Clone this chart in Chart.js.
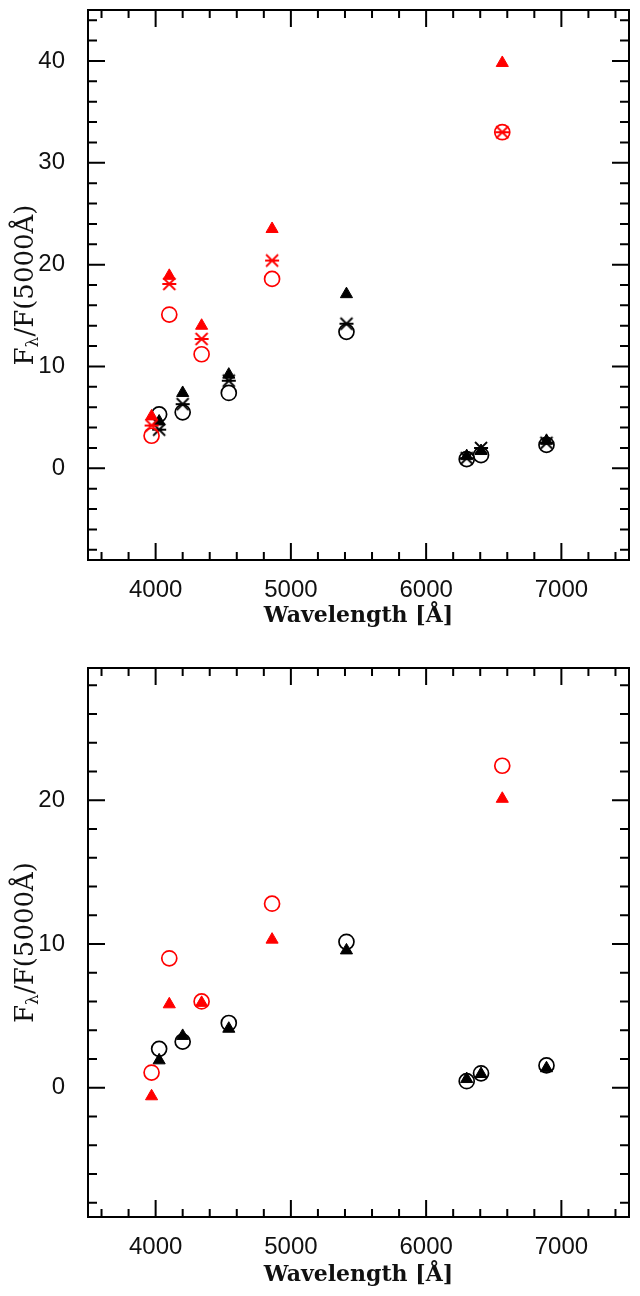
<!DOCTYPE html>
<html>
<head>
<meta charset="utf-8">
<script src="https://cdn.jsdelivr.net/npm/chart.js@4/dist/chart.umd.min.js"></script>
<style>
  body { margin: 0; background: #fff; }
  canvas { display: block; }
</style>
</head>
<body>
<canvas id="top" width="640" height="648"></canvas>
<canvas id="bottom" width="640" height="648"></canvas>
<script>
// line wavelengths (Angstrom)
const redLines = [3970, 4101, 4340, 4861, 6563];
const blackLines = [4026, 4200, 4541, 5411, 6300, 6406, 6890];

// upper panel
const topRedTri = [5.1, 18.9, 14.0, 23.5, 39.8];
const topRedAst = [4.2, 18.1, 12.7, 20.4, 33.0];
const topRedCirc = [3.2, 15.1, 11.2, 18.6, 33.0];
const topBlackTri = [4.6, 7.4, 9.2, 17.1, 1.2, 1.7, 2.7];
const topBlackAst = [3.8, 6.3, 8.6, 14.2, 1.0, 2.0, 2.5];
const topBlackCirc = [5.3, 5.5, 7.4, 13.4, 0.9, 1.3, 2.3];

// lower panel
const botRedTri = [-0.6, 5.8, 5.9, 10.3, 20.1];
const botRedCirc = [1.05, 9.0, 6.0, 12.8, 22.4];
const botBlackTri = [1.9, 3.6, 4.1, 9.55, 0.6, 0.95, 1.35];
const botBlackCirc = [2.7, 3.2, 4.5, 10.15, 0.45, 1.0, 1.55];

// tick labels
const xTicks = [4000, 5000, 6000, 7000];
const topYTicks = [0, 10, 20, 30, 40];
const botYTicks = [0, 10, 20];

function pts(xs, ys) {
  return xs.map((x, i) => ({ x: x, y: ys[i] }));
}

// asterisk: x plus a horizontal bar
function asterisk(color) {
  const c = document.createElement('canvas');
  c.width = 16; c.height = 16;
  const g = c.getContext('2d');
  g.strokeStyle = color;
  g.lineWidth = 1.8;
  g.beginPath();
  g.moveTo(2, 2); g.lineTo(14, 14);
  g.moveTo(14, 2); g.lineTo(2, 14);
  g.moveTo(1, 8); g.lineTo(15, 8);
  g.stroke();
  return c;
}

function tri(data, color) {
  return { data: data, pointStyle: 'triangle', pointRadius: 7, backgroundColor: color, borderColor: color, borderWidth: 1 };
}
function circ(data, color) {
  return { data: data, pointStyle: 'circle', pointRadius: 7.5, backgroundColor: 'rgba(0,0,0,0)', borderColor: color, borderWidth: 1.7 };
}
function ast(data, color) {
  return { data: data, pointStyle: asterisk(color), pointRadius: 8, borderColor: color };
}

// frame, inward ticks on all four sides, axis titles
const framePlugin = {
  id: 'frame',
  afterDraw(chart) {
    const { ctx, chartArea: a, scales: { x, y } } = chart;
    const o = chart.options.plugins.frame;
    ctx.save();
    ctx.strokeStyle = '#000';
    ctx.lineWidth = 2;
    ctx.strokeRect(a.left, a.top, a.right - a.left, a.bottom - a.top);
    ctx.beginPath();
    for (let v = Math.ceil(x.min / 200) * 200; v <= x.max; v += 200) {
      const px = x.getPixelForValue(v);
      const len = v % 1000 === 0 ? 17 : 8;
      ctx.moveTo(px, a.bottom); ctx.lineTo(px, a.bottom - len);
      ctx.moveTo(px, a.top); ctx.lineTo(px, a.top + len);
    }
    for (let v = Math.ceil(y.min / 2) * 2; v <= y.max; v += 2) {
      const py = y.getPixelForValue(v);
      const len = v % 10 === 0 ? 17 : 9;
      ctx.moveTo(a.left, py); ctx.lineTo(a.left + len, py);
      ctx.moveTo(a.right, py); ctx.lineTo(a.right - len, py);
    }
    ctx.stroke();

    // x title
    ctx.fillStyle = '#111';
    ctx.font = 'bold 22px "DejaVu Serif"';
    ctx.textAlign = 'center';
    ctx.textBaseline = 'alphabetic';
    ctx.fillText('Wavelength [Å]', (a.left + a.right) / 2, a.bottom + o.titleGap);

    // y title with subscript lambda
    ctx.translate(33, (a.top + a.bottom) / 2);
    ctx.rotate(-Math.PI / 2);
    const big = '26px "DejaVu Serif"', small = '17px "DejaVu Serif"';
    ctx.font = big; const w1 = ctx.measureText('F').width; const w3 = ctx.measureText('/F(5000Å)').width;
    ctx.font = small; const w2 = ctx.measureText('λ').width;
    let s = -(w1 + w2 + w3) / 2;
    ctx.textAlign = 'left';
    ctx.font = big; ctx.fillText('F', s, 0); s += w1;
    ctx.font = small; ctx.fillText('λ', s, 5); s += w2;
    ctx.font = big; ctx.fillText('/F(5000Å)', s, 0);
    ctx.restore();
  }
};

function noPad(s) {
  s.paddingTop = 0; s.paddingBottom = 0; s.paddingLeft = 0; s.paddingRight = 0;
}

function makeChart(id, datasets, yMin, yMax, yTicks, pad, xHeight, titleGap) {
  return new Chart(document.getElementById(id), {
    type: 'scatter',
    data: { datasets: datasets },
    options: {
      responsive: false,
      animation: false,
      layout: { padding: pad },
      plugins: { legend: { display: false }, tooltip: { enabled: false }, frame: { titleGap: titleGap } },
      scales: {
        x: {
          min: 3500, max: 7500,
          afterBuildTicks: s => { s.ticks = xTicks.map(v => ({ value: v })); },
          afterFit: s => { s.height = xHeight; noPad(s); },
          grid: { display: false },
          border: { display: false },
          ticks: { color: '#111', padding: 8, maxRotation: 0, callback: v => String(v), font: { family: 'Liberation Sans', size: 24 } }
        },
        y: {
          min: yMin, max: yMax,
          afterBuildTicks: s => { s.ticks = yTicks.map(v => ({ value: v })); },
          afterFit: s => { s.width = 88; noPad(s); },
          grid: { display: false },
          border: { display: false },
          ticks: { color: '#111', padding: 15, callback: v => String(v), font: { family: 'Liberation Sans', size: 24 } }
        }
      }
    },
    plugins: [framePlugin]
  });
}

makeChart('top', [
  circ(pts(redLines, topRedCirc), '#ff0000'),
  ast(pts(redLines, topRedAst), '#ff0000'),
  tri(pts(redLines, topRedTri), '#ff0000'),
  circ(pts(blackLines, topBlackCirc), '#000'),
  ast(pts(blackLines, topBlackAst), '#000'),
  tri(pts(blackLines, topBlackTri), '#000')
], -9, 45, topYTicks, { top: 10, right: 11, left: 0, bottom: 0 }, 88, 62);

makeChart('bottom', [
  circ(pts(redLines, botRedCirc), '#ff0000'),
  tri(pts(redLines, botRedTri), '#ff0000'),
  circ(pts(blackLines, botBlackCirc), '#000'),
  tri(pts(blackLines, botBlackTri), '#000')
], -9, 29.2, botYTicks, { top: 20, right: 11, left: 0, bottom: 0 }, 79, 64);
</script>
</body>
</html>
